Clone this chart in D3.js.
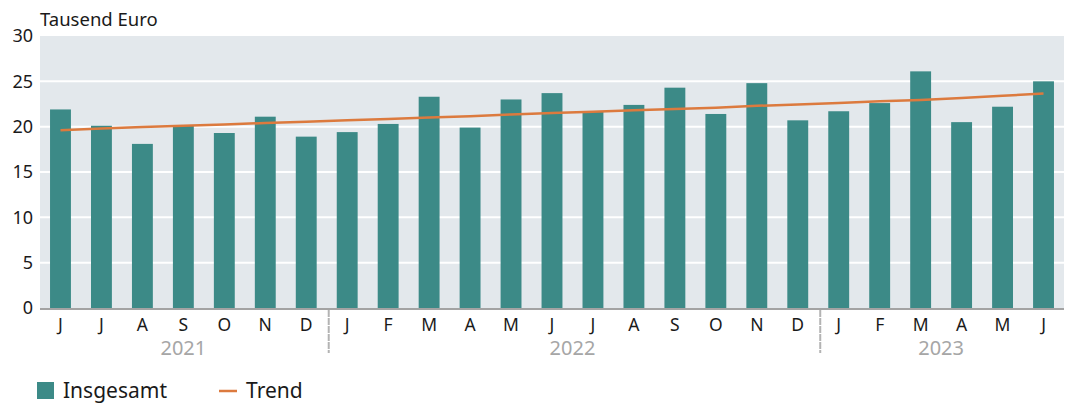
<!DOCTYPE html>
<html lang="de">
    <head>
        <meta charset="utf-8"/>
        <script src="https://d3js.org/d3.v7.min.js"></script>
        <style>
            body { margin: 0; background: #fff; }
            text { font-family: "Noto Sans", sans-serif; }
        </style>
    </head>
    <body>
        <div id="chart"></div>
    </body>
    <script>
        var months = ["J", "J", "A", "S", "O", "N", "D",
                      "J", "F", "M", "A", "M", "J", "J", "A", "S", "O", "N", "D",
                      "J", "F", "M", "A", "M", "J"];
        var years = ["2021", "2022", "2023"];
        var yearStart = [0, 7, 19];   // index of first month of each year
        var insgesamt = [21.9, 20.1, 18.1, 20.1, 19.3, 21.1, 18.9,
                         19.4, 20.3, 23.3, 19.9, 23.0, 23.7, 21.7, 22.4, 24.3, 21.4, 24.8, 20.7,
                         21.7, 22.6, 26.1, 20.5, 22.2, 25.0];
        var trend = [19.6, 19.8, 19.95, 20.1, 20.25, 20.4, 20.55,
                     20.7, 20.85, 21.0, 21.15, 21.35, 21.5, 21.65, 21.8, 21.95, 22.1, 22.3, 22.45,
                     22.6, 22.8, 22.95, 23.15, 23.4, 23.65];
        var yTicks = [0, 5, 10, 15, 20, 25, 30];

        var W = 1069, H = 403;
        var margin = {top: 36, right: 5, bottom: 95, left: 40};
        var width = W - margin.left - margin.right;
        var height = H - margin.top - margin.bottom;

        var svg = d3.select("#chart")
            .append("svg")
                .attr("width", W)
                .attr("height", H);
        var g = svg.append("g")
            .attr("transform", "translate(" + margin.left + "," + margin.top + ")");

        var x = d3.scaleBand()
            .domain(d3.range(months.length))
            .range([0, width])
            .paddingInner(0.49)
            .paddingOuter(0.245);

        var y = d3.scaleLinear()
            .domain([0, 30])
            .range([height, 0]);

        g.append("rect")
            .attr("width", width)
            .attr("height", height)
            .attr("fill", "#e3e8ec");

        g.selectAll(".grid")
            .data(yTicks.filter(function (d) { return d > 0 && d < 30; }))
            .enter()
            .append("line")
            .attr("x1", 0).attr("x2", width)
            .attr("y1", function (d) { return y(d); })
            .attr("y2", function (d) { return y(d); })
            .attr("stroke", "#fff")
            .attr("stroke-width", 2);

        g.selectAll(".ylab")
            .data(yTicks)
            .enter()
            .append("text")
            .attr("x", -7)
            .attr("y", function (d) { return y(d); })
            .attr("dy", "0.35em")
            .attr("text-anchor", "end")
            .attr("font-size", 18)
            .attr("fill", "#1a1a1a")
            .text(function (d) { return d; });

        svg.append("text")
            .attr("x", 40).attr("y", 26)
            .attr("font-size", 18.5)
            .attr("fill", "#1a1a1a")
            .text("Tausend Euro");

        g.selectAll(".bar")
            .data(insgesamt)
            .enter()
            .append("rect")
            .attr("x", function (d, i) { return x(i); })
            .attr("width", x.bandwidth())
            .attr("y", function (d) { return y(d); })
            .attr("height", function (d) { return height - y(d); })
            .attr("fill", "#3c8a87");

        var line = d3.line()
            .x(function (d, i) { return x(i) + x.bandwidth() / 2; })
            .y(function (d) { return y(d); });
        g.append("path")
            .datum(trend)
            .attr("d", line)
            .attr("fill", "none")
            .attr("stroke", "#dc7a3e")
            .attr("stroke-width", 2.5);

        // x axis
        g.append("line")
            .attr("x1", 0).attr("x2", width)
            .attr("y1", height + 1).attr("y2", height + 1)
            .attr("stroke", "#a3a3a3")
            .attr("stroke-width", 2);

        g.selectAll(".mlab")
            .data(months)
            .enter()
            .append("text")
            .attr("x", function (d, i) { return x(i) + x.bandwidth() / 2; })
            .attr("y", height + 23)
            .attr("text-anchor", "middle")
            .attr("font-size", 17.5)
            .attr("fill", "#1a1a1a")
            .text(function (d) { return d; });

        var step = x.step();
        g.selectAll(".sep")
            .data(yearStart.slice(1))
            .enter()
            .append("line")
            .attr("x1", function (d) { return x(d) - (step - x.bandwidth()) / 2 + 2; })
            .attr("x2", function (d) { return x(d) - (step - x.bandwidth()) / 2 + 2; })
            .attr("y1", height + 2).attr("y2", height + 45)
            .attr("stroke", "#b3b3b3")
            .attr("stroke-width", 2)
            .attr("stroke-dasharray", "7,1");

        g.selectAll(".yearlab")
            .data(years)
            .enter()
            .append("text")
            .attr("x", function (d, i) {
                var a = yearStart[i];
                var b = i + 1 < yearStart.length ? yearStart[i + 1] - 1 : months.length - 1;
                return (x(a) + x(b) + x.bandwidth()) / 2;
            })
            .attr("y", height + 47)
            .attr("text-anchor", "middle")
            .attr("font-size", 20)
            .attr("fill", "#a6a6a6")
            .text(function (d) { return d; });

        // legend
        var leg = svg.append("g");
        leg.append("rect")
            .attr("x", 37).attr("y", 382)
            .attr("width", 17).attr("height", 17)
            .attr("fill", "#3c8a87");
        leg.append("text")
            .attr("x", 63).attr("y", 398)
            .attr("font-size", 21)
            .attr("fill", "#1a1a1a")
            .text("Insgesamt");
        leg.append("line")
            .attr("x1", 219).attr("x2", 237)
            .attr("y1", 391).attr("y2", 391)
            .attr("stroke", "#dc7a3e")
            .attr("stroke-width", 2.5);
        leg.append("text")
            .attr("x", 246).attr("y", 398)
            .attr("font-size", 21)
            .attr("fill", "#1a1a1a")
            .text("Trend");
    </script>
</html>
